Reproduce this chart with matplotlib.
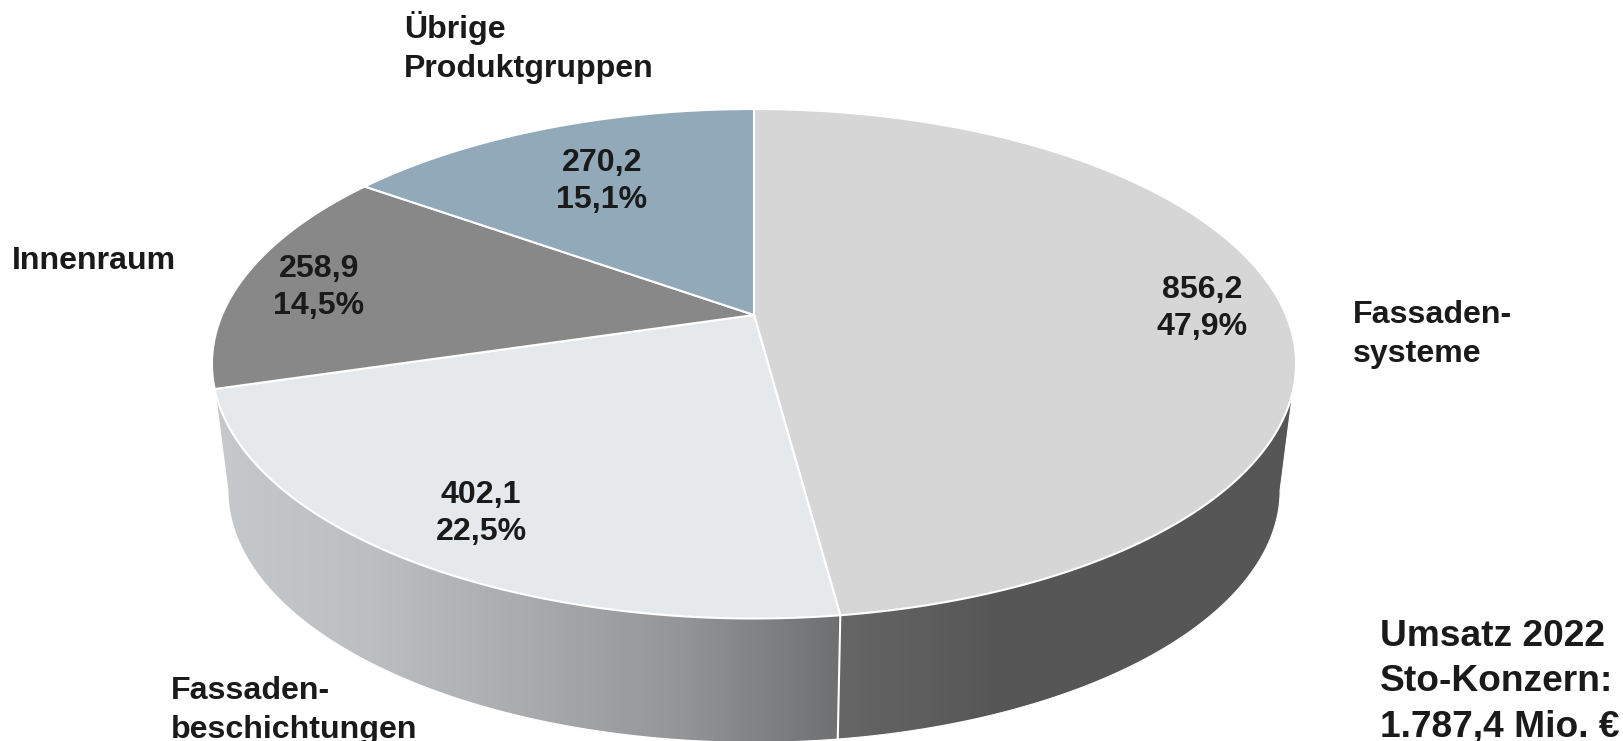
import matplotlib
matplotlib.use("Agg")
import matplotlib.pyplot as plt
import numpy as np
from matplotlib.colors import LinearSegmentedColormap
from matplotlib.patches import PathPatch, Polygon
from matplotlib.path import Path

plt.rcParams["font.family"] = ["Liberation Sans", "DejaVu Sans"]
plt.rcParams["font.weight"] = "bold"

# data, clockwise from 12 o'clock
segments = ["Fassadensysteme", "Fassadenbeschichtungen", "Innenraum", "Übrige Produktgruppen"]
values = np.array([856.2, 402.1, 258.9, 270.2])
colors = ["#d6d6d6", "#e6e9ec", "#888888", "#92a9ba"]
total_text = ["Umsatz 2022", "Sto-Konzern:", "1.787,4 Mio. €"]

# label placement in pixels
name_lines = [["Fassaden-", "systeme"], ["Fassaden-", "beschichtungen"], ["Innenraum"], ["Übrige", "Produktgruppen"]]
name_xy = [(1353, 323), (171, 699), (12, 269), (404, 38)]
value_xy = [(1202, 298), (481, 503), (319, 277), (602, 171)]

# the perspective of the disc
CX = 754
K = 0.1914
TOP = dict(a=532, b=245.4, y0=315)
BOTTOM = dict(a=516.4, b=242.8, y0=442)
TEXT = "#1a1a1a"


def rim(theta, a, b, y0):
    u, v = np.sin(theta), -np.cos(theta)
    return CX + a * u / (1 - K * v), y0 + b * v / (1 - K * v)


fig = plt.figure(figsize=(16.23, 7.41), dpi=100)
ax = fig.add_axes([0, 0, 1, 1])
ax.set_xlim(0, 1623)
ax.set_ylim(741, 0)
ax.axis("off")

edges = np.concatenate([[0], np.cumsum(values)]) / values.sum() * 2 * np.pi

# side wall: lower half of bottom rim joined up to the top rim
widest = np.arccos(-K)
t = np.linspace(widest, 2 * np.pi - widest, 300)
bx, by = rim(t, **BOTTOM)
tx_r, ty_r = rim(np.radians(107), **TOP)
tx_l, ty_l = rim(np.radians(253), **TOP)
wall = np.vstack([[tx_r, ty_r], np.column_stack([bx, by]), [tx_l, ty_l]])
wall_path = Path(np.vstack([wall, wall[0]]), closed=True)

split = rim(edges[1], **BOTTOM)[0]
left_cmap = LinearSegmentedColormap.from_list("left", [
    (0.0, "#c6c9cc"), (0.25, "#bcbfc2"), (0.5, "#a9abad"), (0.75, "#939597"), (1.0, "#6e7072")])
right_cmap = LinearSegmentedColormap.from_list("right", [
    (0.0, "#666666"), (0.35, "#565656"), (1.0, "#575757")])

for cmap, x0, x1 in [(left_cmap, 215, split), (right_cmap, split, 1300)]:
    im = ax.imshow(np.linspace(0, 1, 256)[None, :], cmap=cmap, aspect="auto",
                   extent=[x0, x1, 745, 300], zorder=1)
    im.set_clip_path(PathPatch(wall_path, transform=ax.transData))
ax.set_xlim(0, 1623)
ax.set_ylim(741, 0)

ax.add_patch(PathPatch(wall_path, fc="none", ec="white", lw=0.8, zorder=2))
ax.plot([rim(edges[1], **TOP)[0], rim(edges[1], **BOTTOM)[0]],
        [rim(edges[1], **TOP)[1], rim(edges[1], **BOTTOM)[1]],
        color="white", lw=1.5, zorder=2)

# top of the disc
apex = (CX, TOP["y0"])
for i, color in enumerate(colors):
    t = np.linspace(edges[i], edges[i + 1], 200)
    x, y = rim(t, **TOP)
    pts = np.vstack([apex, np.column_stack([x, y])])
    ax.add_patch(Polygon(pts, closed=True, fc=color, ec="white", lw=1.5, joinstyle="miter", zorder=3))

# text
for lines, (x, y) in zip(name_lines, name_xy):
    for j, line in enumerate(lines):
        ax.text(x, y + j * 39, line, fontsize=23.1, color=TEXT, ha="left", va="baseline", zorder=5)

for val, (x, y) in zip(values, value_xy):
    ax.text(x, y, f"{val:.1f}".replace(".", ","), fontsize=23.1, color=TEXT,
            ha="center", va="baseline", zorder=5)
    pct = val / values.sum() * 100
    ax.text(x, y + 37, f"{pct:.1f}%".replace(".", ","), fontsize=23.1, color=TEXT,
            ha="center", va="baseline", zorder=5)

for j, line in enumerate(total_text):
    ax.text(1380, 646 + j * 45, line, fontsize=26.7, color=TEXT, ha="left", va="baseline", zorder=5)

fig.savefig("out.png", dpi=100, facecolor="white")
